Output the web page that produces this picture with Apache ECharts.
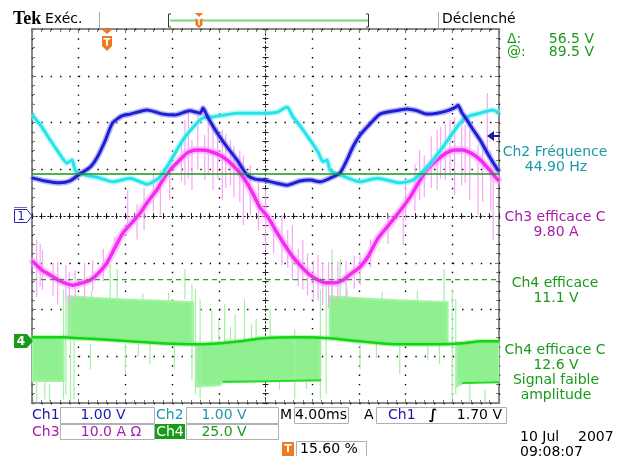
<!DOCTYPE html>
<html><head><meta charset="utf-8">
<script src="https://cdn.jsdelivr.net/npm/echarts@6/dist/echarts.min.js"></script>
<style>html,body{margin:0;padding:0;background:#fff}#c{width:621px;height:456px}</style>
</head><body><div id="c"></div>
<script>
// ---- scope settings ----
const timeRange = [-20, 20];      // ms (4 ms/div, 10 div)
const divRange = [-4, 4];         // vertical divisions
const ch1Scale = 1, ch1Offset = 0;      // V/div, div
const ch2Scale = 1, ch2Offset = 0;
const ch3Scale = 10, ch3Offset = 0;     // A/div
const ch4Scale = 25, ch4Offset = -2.68; // V/div
const ch1TrigLevel = 1.70;              // V
const cursorAt = 89.5, cursorDelta = 56.5; // V (Ch4)

// ---- traces: [time ms, value] ----
const ch1Trace = [[-19.9,0.81],[-18.9,0.75],[-17.6,0.71],[-16.75,0.75],[-15.9,0.9],[-15.0,1.05],[-14.4,1.26],[-13.7,1.63],[-13.1,1.99],[-12.3,2.14],[-11.6,2.18],[-10.15,2.27],[-8.8,2.18],[-7.75,2.16],[-6.5,2.25],[-5.6,2.2],[-5.35,2.31],[-5.0,2.14],[-4.15,1.78],[-3.3,1.48],[-2.44,1.2],[-1.58,0.88],[-0.9,0.79],[-0.2,0.77],[0.8,0.71],[1.84,0.66],[2.96,0.75],[3.81,0.77],[4.67,0.73],[5.53,0.81],[6.38,0.92],[6.98,1.2],[7.49,1.48],[8.09,1.73],[8.69,1.9],[9.81,2.18],[11.1,2.25],[12.12,2.29],[13.0,2.25],[13.83,2.18],[14.7,2.2],[15.54,2.25],[16.3,2.33],[16.49,2.37],[16.8,2.22],[17.26,2.05],[17.8,1.84],[18.37,1.63],[19.2,1.26],[19.91,0.98]];

const ch2Trace = [[-19.9,2.14],[-19.15,1.9],[-18.46,1.63],[-17.8,1.39],[-17.0,1.13],[-16.57,1.2],[-16.3,0.98],[-15.9,0.9],[-14.43,0.83],[-13.06,0.73],[-11.6,0.81],[-10.15,0.68],[-9.04,0.83],[-8.18,1.16],[-7.07,1.63],[-5.87,1.99],[-5.35,2.1],[-4.5,2.12],[-2.44,2.2],[-0.21,2.2],[0.98,2.22],[1.84,2.33],[2.36,2.12],[2.96,1.93],[3.81,1.63],[4.5,1.37],[4.92,1.16],[5.27,1.2],[5.53,0.98],[6.38,0.88],[8.09,0.73],[9.55,0.81],[11.52,0.71],[12.63,0.77],[13.83,1.05],[15.2,1.48],[16.66,1.99],[17.26,2.12],[18.37,2.2],[19.48,2.27],[19.91,2.22]];

const ch3Trace = [[-19.9,-9.8],[-19.15,-11.6],[-18.46,-12.6],[-17.6,-13.9],[-16.5,-14.8],[-15.7,-14.3],[-15.0,-13.7],[-14.3,-12.2],[-13.6,-10.1],[-12.9,-6.8],[-12.2,-3.6],[-11.4,-1.3],[-10.75,0.6],[-10.1,3.0],[-9.3,5.6],[-8.8,7.7],[-8.2,9.8],[-7.5,11.6],[-6.7,13.5],[-6.0,14.1],[-5.35,14.1],[-4.6,13.7],[-3.9,13.0],[-3.2,11.8],[-2.4,9.8],[-1.75,7.7],[-1.1,4.9],[-0.5,1.9],[0.2,-0.2],[1.0,-3.6],[1.7,-6.4],[2.36,-8.8],[3.1,-10.9],[3.8,-12.6],[4.5,-13.7],[5.27,-14.3],[5.95,-14.3],[6.64,-13.7],[7.4,-12.2],[8.1,-10.9],[8.8,-8.6],[9.55,-5.1],[10.2,-3.0],[10.9,-0.9],[11.7,1.7],[12.4,4.1],[13.1,7.1],[13.8,9.8],[14.7,12.0],[15.5,13.5],[16.2,14.1],[16.9,14.1],[17.7,13.3],[18.4,12.0],[19.2,9.8],[19.9,7.7]];

// Ch3 glitches: [time ms, low A, high A]
const ch3Spikes = [[-19.6,-17.3,-5.1],[-19.1,-15.8,-7.3],[-17.8,-19.0,-9.8],[-17.1,-18.0,-10.5],[-16.3,-18.0,-11.6],[-12.9,-7.3,-4.5],[-11.8,-1.9,5.6],[-9.0,0.2,9.8],[-8.2,3.4,12.0],[-6.9,6.6,20.5],[-6.3,5.6,16.3],[-5.8,9.8,21.6],[-5.2,7.7,17.3],[-4.5,5.6,20.1],[-3.7,3.4,18.4],[-3.0,6.6,16.3],[-1.9,-1.9,13.0],[-1.3,0.2,10.9],[-0.6,-3.0,7.7],[0.0,-7.3,5.6],[1.4,-10.5,0.2],[2.3,-13.7,-1.9],[3.2,-15.8,-5.1],[4.5,-18.0,-8.3],[5.4,-19.7,-9.8],[6.2,-18.0,-9.8],[8.1,-14.8,-8.3],[11.8,-6.2,2.4],[13.2,3.4,14.1],[14.7,5.6,18.4],[15.4,7.7,19.5],[16.2,4.5,21.0],[16.8,6.6,20.5],[17.5,3.4,18.4],[18.2,0.2,15.2],[19.0,14.1,26.3],[19.5,-5.1,12.0],
  [-19.3,-15.0,-6.0],[-18.2,-17.0,-10.0],[-16.8,-19.5,-12.0],[-15.5,-17.5,-10.0],[-14.8,-16.0,-9.5],[-13.9,-14.0,-7.0],[-11.0,-5.0,2.5],[-10.4,-3.0,6.0],[-9.6,1.0,9.0],[-7.2,7.5,16.0],[-6.6,8.0,22.5],[-4.9,9.0,22.0],[-4.1,8.0,19.0],[-3.4,6.0,17.5],[-2.7,4.0,15.0],[-2.2,3.0,14.0],[0.7,-8.0,-0.5],[1.9,-11.0,-3.0],[2.8,-15.0,-7.0],[3.6,-17.0,-8.0],[4.1,-18.5,-9.5],[4.9,-19.0,-10.0],[5.7,-18.5,-10.5],[6.9,-17.5,-9.5],[7.6,-15.5,-8.5],[9.0,-11.0,-5.0],[10.5,-6.0,0.5],[12.0,-1.0,7.0],[12.8,1.0,11.0],[13.6,4.0,13.0],[14.2,6.0,17.0],[15.0,8.0,19.0],[15.8,8.5,20.5],[17.1,7.0,19.5],[18.6,3.0,16.0],[19.3,1.0,14.0]];

const ch4Trace = [[-19.95,2.1],[-17.3,2.1],[-15.9,1.6],[-14.2,1.1],[-11.6,0],[-9.0,-1.1],[-5.9,-1.6],[-3.9,-1.1],[-2.2,0],[-0.2,1.6],[3.0,2.1],[5.5,1.6],[8.1,0],[11.3,-1.6],[14.9,-1.6],[16.9,-1.1],[18.4,0],[19.95,0]];
const ch4LowLevel = [[-3.6,-21.7],[0,-21.4],[4.7,-20.9],null,[16.9,-22.3],[19.95,-21.9]];
// PWM envelope bands: [time ms, top V, bottom V]
const ch4Bands = [
  [[-19.95,2.1,-21.2],[-17.3,2.1,-21.2]],
  [[-16.9,24.1,1.9],[-14.2,23.0,1.1],[-11.6,22.2,0],[-9.0,21.7,-1.1],[-6.2,20.9,-1.6]],
  [[-5.9,-1.6,-24.1],[-3.9,-1.1,-23.5],[-3.7,-1.0,-21.9],[-2.2,0,-21.7],[-0.2,1.6,-21.4],[2.0,2.1,-21.1],[4.7,2.1,-20.9]],
  [[5.5,24.1,1.6],[8.1,23.0,0],[11.3,22.0,-1.6],[15.6,20.9,-1.6]],
  [[16.4,-1.1,-24.1],[16.9,-1.1,-22.5],[18.4,0,-21.9],[19.95,0,-21.9]]
];
const ch4Spikes = [[-19.6,-32.6,-17.6],[-18.9,-31.0,-20.3],[-18.5,-32.6,-23.0],[-17.3,-31.0,27.8],[-17.1,-28.3,22.5],[-16.7,-32.6,25.1],[-16.4,-31.0,1.1],[-15.0,-15.0,-1.6],[-13.3,22.5,41.2],[-12.7,22.5,38.5],[-12.0,-17.6,-1.6],[-9.9,-12.3,-1.6],[-7.8,-15.0,-1.6],[-6.9,22.5,38.5],[-6.3,-20.3,30.5],[-6.0,-28.3,27.8],[-5.6,-31.0,22.5],[-4.6,-1.6,17.1],[-3.5,-1.6,19.8],[-2.6,0,14.4],[-1.8,0,22.5],[-1.2,0,9.1],[0.4,1.1,17.1],[2.5,-31.0,6.4],[4.7,-31.0,27.8],[5.2,-28.3,30.5],[5.7,22.5,49.2],[6.4,22.5,43.9],[8.1,-15.0,-1.6],[11.5,-17.6,-1.6],[14.9,-12.3,-1.6],[15.3,21.4,38.5],[16.0,-31.0,27.8],[16.3,-28.3,22.5],[17.5,-32.6,-23.0],[18.8,-32.6,-25.7],
  [-14.9,22.0,27.0],[-10.5,21.0,25.5],[-8.3,20.5,26.0],[-4.0,-1.0,11.0],[-3.0,-1.0,8.0],[-0.8,0.5,12.0],[1.2,-26.0,-20.0],[3.5,-25.5,-20.0],[7.0,22.5,28.0],[10.0,21.5,26.5],[13.0,21.0,27.0],[-10.9,-8.0,0],[9.5,-9.0,-0.5],[13.9,-10.0,-1.5]];

// ---- readouts ----
const measLabels = [
  ['Ch2 Fréquence', '44.90 Hz', '#1a9aa8', 152],
  ['Ch3 efficace C', '9.80 A', '#a81aa8', 217],
  ['Ch4 efficace', '11.1 V', '#1a9a1a', 283],
  ['Ch4 efficace C', '12.6 V', '#1a9a1a', 350]
];

// ---- conversions ----
const dv = (s, o) => p => p ? [p[0], p[1] / s + o] : null;
const d1 = ch1Trace.map(dv(ch1Scale, ch1Offset));
const d2 = ch2Trace.map(dv(ch2Scale, ch2Offset));
const d3 = ch3Trace.map(dv(ch3Scale, ch3Offset));
const d4 = ch4Trace.map(dv(ch4Scale, ch4Offset));
const d4low = ch4LowLevel.map(dv(ch4Scale, ch4Offset));
const s3 = ch3Spikes.map(p => [p[0], p[1] / ch3Scale + ch3Offset, p[2] / ch3Scale + ch3Offset]);
const s4 = ch4Spikes.map(p => [p[0], p[1] / ch4Scale + ch4Offset, p[2] / ch4Scale + ch4Offset]);
const cur1 = cursorAt / ch4Scale + ch4Offset;
const cur2 = (cursorAt - cursorDelta) / ch4Scale + ch4Offset;

const FONT = '"DejaVu Sans", Verdana, sans-serif';
function txt(text, x, y, color, size, align, weight, family) {
  return {type: 'text', x: x, y: y, z: 100, silent: true,
    style: {text: text, fill: color, font: (weight || 'normal') + ' ' + (size || 14) + 'px ' + (family || FONT),
      align: align || 'left', verticalAlign: 'middle', textAlign: align || 'left', textVerticalAlign: 'middle'}};
}
function rect(x, y, w, h, fill, stroke) {
  return {type: 'rect', z: 90, silent: true, shape: {x: x + 0.5, y: y + 0.5, width: w, height: h},
    style: {fill: fill || '#fff', stroke: stroke || '#b0b0b0', lineWidth: 1}};
}
function poly(pts, fill, stroke) {
  return {type: 'polygon', z: 95, silent: true, shape: {points: pts}, style: {fill: fill, stroke: stroke || null, lineWidth: 1}};
}
function seg(x1, y1, x2, y2, color, w) {
  return {type: 'line', z: 95, silent: true, shape: {x1: x1, y1: y1, x2: x2, y2: y2}, style: {stroke: color, lineWidth: w || 1}};
}

const dot = '#000';
function xAx(pos, onZero, split) {
  return {type: 'value', min: timeRange[0], max: timeRange[1], interval: 4, position: pos,
    axisLine: {show: onZero, onZero: onZero, lineStyle: {color: '#111', width: 1, type: [1, 3]}},
    axisTick: {show: true, inside: !onZero, length: onZero ? 3 : 4, lineStyle: {color: onZero ? '#222' : '#777'}},
    minorTick: {show: true, splitNumber: 5, length: 3, lineStyle: {color: onZero ? '#222' : '#777'}},
    axisLabel: {show: false},
    splitLine: {show: split, lineStyle: {color: dot, width: 1.4, type: [1.4, 7.94]}}};
}
function yAx(pos, onZero, split) {
  return {type: 'value', min: divRange[0], max: divRange[1], interval: 1, position: pos,
    axisLine: {show: onZero, onZero: onZero, lineStyle: {color: '#111', width: 1, type: [1, 3]}},
    axisTick: {show: true, inside: !onZero, length: onZero ? 3 : 4, lineStyle: {color: onZero ? '#222' : '#777'}},
    minorTick: {show: true, splitNumber: 5, length: 3, lineStyle: {color: onZero ? '#222' : '#777'}},
    axisLabel: {show: false},
    splitLine: {show: split, lineStyle: {color: dot, width: 1.4, type: [1.4, 7.95]}}};
}

function lineSeries(data, color, width, z, opacity) {
  return {type: 'line', data: data, xAxisIndex: 0, yAxisIndex: 0, showSymbol: false, symbol: 'none', smooth: 0.2,
    connectNulls: false, silent: true, z: z, animation: false,
    lineStyle: {color: color, width: width, opacity: opacity == null ? 1 : opacity, cap: 'round', join: 'round'}};
}
function spikeSeries(data, color, z) {
  return {type: 'custom', data: data, xAxisIndex: 0, yAxisIndex: 0, z: z, silent: true, animation: false,
    encode: {x: 0, y: [1, 2]},
    renderItem: function (params, api) {
      const a = api.coord([api.value(0), api.value(1)]);
      const b = api.coord([api.value(0), api.value(2)]);
      return {type: 'line', shape: {x1: a[0], y1: a[1], x2: b[0], y2: b[1]}, style: {stroke: color, lineWidth: 1.2}};
    }};
}

const chart = echarts.init(document.getElementById('c'), null, {renderer: 'canvas'});
chart.setOption({
  animation: false,
  backgroundColor: '#fff',
  grid: {left: 32, top: 29, width: 467, height: 374, show: true, borderColor: '#8a8a8a', borderWidth: 2, backgroundColor: 'rgba(0,0,0,0)'},
  xAxis: [xAx('bottom', true, true), xAx('top', true, false), xAx('bottom', false, false), xAx('top', false, false)],
  yAxis: [yAx('left', true, true), yAx('right', true, false), yAx('left', false, false), yAx('right', false, false)],
  series: [
    {type: 'custom', data: ch4Bands.map(b => [b[0][0], b[0][1] / ch4Scale + ch4Offset]), xAxisIndex: 0, yAxisIndex: 0,
      z: 2, silent: true, animation: false,
      renderItem: function (params, api) {
        const b = ch4Bands[params.dataIndex];
        const pts = [];
        b.forEach(p => pts.push(api.coord([p[0], p[1] / ch4Scale + ch4Offset])));
        for (let i = b.length - 1; i >= 0; i--) pts.push(api.coord([b[i][0], b[i][2] / ch4Scale + ch4Offset]));
        return {type: 'polygon', shape: {points: pts}, style: {fill: '#8ef08e', stroke: '#a4f2a4', lineWidth: 2}};
      }},
    spikeSeries(s4, '#a6efa6', 3),
    lineSeries(d4low, '#2ad82a', 2, 4),
    lineSeries(d4, '#70e870', 5, 4, 0.45),
    lineSeries(d4, '#12d412', 2.5, 5),
    spikeSeries(s3, '#f7a4f7', 6),
    lineSeries(d3, '#ffa0ff', 8, 7, 0.55),
    lineSeries(d3, '#f22cf2', 3.5, 8),
    lineSeries(d2, '#90f2f2', 6, 9, 0.55),
    lineSeries(d2, '#22e4ec', 3, 10),
    lineSeries(d1, '#7878f0', 6, 11, 0.5),
    lineSeries(d1, '#1e1ed8', 3, 12),
    {type: 'line', data: [[timeRange[0], cur1], [timeRange[1], cur1]], showSymbol: false, symbol: 'none', silent: true, z: 14,
      lineStyle: {color: '#1a9a1a', width: 1.5}},
    {type: 'line', data: [[timeRange[0], cur2], [timeRange[1], cur2]], showSymbol: false, symbol: 'none', silent: true, z: 14,
      lineStyle: {color: '#3a9a3a', width: 1.2, type: [5, 4]}}
  ],
  graphic: [].concat(
    // top bar
    [txt('Tek', 13, 19, '#000', 18, 'left', 'bold', '"Liberation Serif", serif'),
     txt('Exéc.', 45, 19, '#000', 14),
     seg(99.5, 12, 99.5, 28, '#aaa', 1),
     seg(438.5, 12, 438.5, 28, '#aaa', 1),
     txt('Déclenché', 442, 19, '#000', 14),
     seg(170, 20.5, 368, 20.5, '#7fd27f', 2),
     seg(168.5, 14, 168.5, 27, '#333', 1), seg(168.5, 14, 171, 14, '#333', 1), seg(168.5, 27, 171, 27, '#333', 1),
     seg(368.5, 14, 368.5, 27, '#333', 1), seg(366, 14, 368.5, 14, '#333', 1), seg(366, 27, 368.5, 27, '#333', 1),
     poly([[195, 13], [203, 13], [199, 17]], '#f07820'),
     poly([[195.5, 18], [202.5, 18], [202.5, 25], [199, 28], [195.5, 25]], '#f07820'),
     txt('T', 199, 22.5, '#fff', 8, 'center', 'bold'),
     // trigger position marker in plot
     poly([[101, 29], [113, 29], [107, 34]], '#f07820'),
     poly([[102, 36], [112, 36], [112, 46], [107, 51], [102, 46]], '#f07820'),
     txt('T', 107, 43, '#fff', 10, 'center', 'bold'),
     // ch1 ground marker
     seg(14, 207.5, 27, 207.5, '#6a6ad8', 1),
     poly([[14.5, 209.5], [27, 209.5], [32, 216], [27, 222.5], [14.5, 222.5]], '#fff', '#2a2ab0'),
     txt('1', 21, 216.5, '#2a2ab0', 12, 'center'),
     // ch4 ground marker
     poly([[14, 334], [27, 334], [33, 341], [27, 348], [14, 348]], '#1a9a1a'),
     txt('4', 21, 341.5, '#fff', 12, 'center', 'bold'),
     // trigger level arrow
     poly([[487, 136], [494, 131], [494, 141]], '#1a1aa0'),
     seg(493, 136, 500, 136, '#1a1aa0', 2),
     // cursor readouts
     txt('Δ:', 507, 39, '#1a9a1a', 14),
     txt('56.5 V', 594, 39, '#1a9a1a', 14, 'right'),
     txt('@:', 507, 52, '#1a9a1a', 14),
     txt('89.5 V', 594, 52, '#1a9a1a', 14, 'right')],
    measLabels.map(m => txt(m[0], 555, m[3], m[2], 14, 'center')),
    measLabels.map(m => txt(m[1], 556, m[3] + 15, m[2], 14, 'center')),
    [txt('Signal faible', 556, 380, '#1a9a1a', 14, 'center'),
     txt('amplitude', 556, 395, '#1a9a1a', 14, 'center'),
     // bottom readouts
     rect(60, 407, 94, 16), rect(186, 407, 92, 16), rect(294, 407, 54, 16), rect(376, 407, 130, 16),
     rect(60, 424, 94, 15), rect(186, 424, 92, 15), rect(296, 441, 70, 15),
     {type: 'rect', z: 90, silent: true, shape: {x: 155, y: 424, width: 30, height: 15}, style: {fill: '#1a9a1a'}},
     {type: 'rect', z: 90, silent: true, shape: {x: 282, y: 442, width: 12, height: 14}, style: {fill: '#f07820'}},
     txt('T', 288, 449.5, '#fff', 11, 'center', 'bold'),
     txt('Ch1', 32, 415, '#1a1aa0', 14),
     txt('1.00 V', 103, 415, '#1a1ab0', 14, 'center'),
     txt('Ch2', 156, 415, '#1a9aa8', 14),
     txt('1.00 V', 224, 415, '#1a9aa8', 14, 'center'),
     txt('M', 280, 415, '#000', 14),
     txt('4.00ms', 321, 415, '#000', 14, 'center'),
     txt('A', 364, 415, '#000', 14),
     txt('Ch1', 388, 415, '#1a1aa0', 14),
     txt('∫', 433, 415, '#000', 14, 'center', 'bold'),
     txt('1.70 V', 502, 415, '#000', 14, 'right'),
     txt('Ch3', 32, 432, '#a81aa8', 14),
     txt('10.0 A Ω', 111, 432, '#a81aa8', 14, 'center'),
     txt('Ch4', 170, 432, '#fff', 14, 'center'),
     txt('25.0 V', 224, 432, '#1a9a1a', 14, 'center'),
     txt('15.60 %', 300, 449, '#000', 14),
     txt('10 Jul', 520, 437, '#000', 14),
     txt('2007', 578, 437, '#000', 14),
     txt('09:08:07', 520, 452, '#000', 14)]
  )
});
</script></body></html>
